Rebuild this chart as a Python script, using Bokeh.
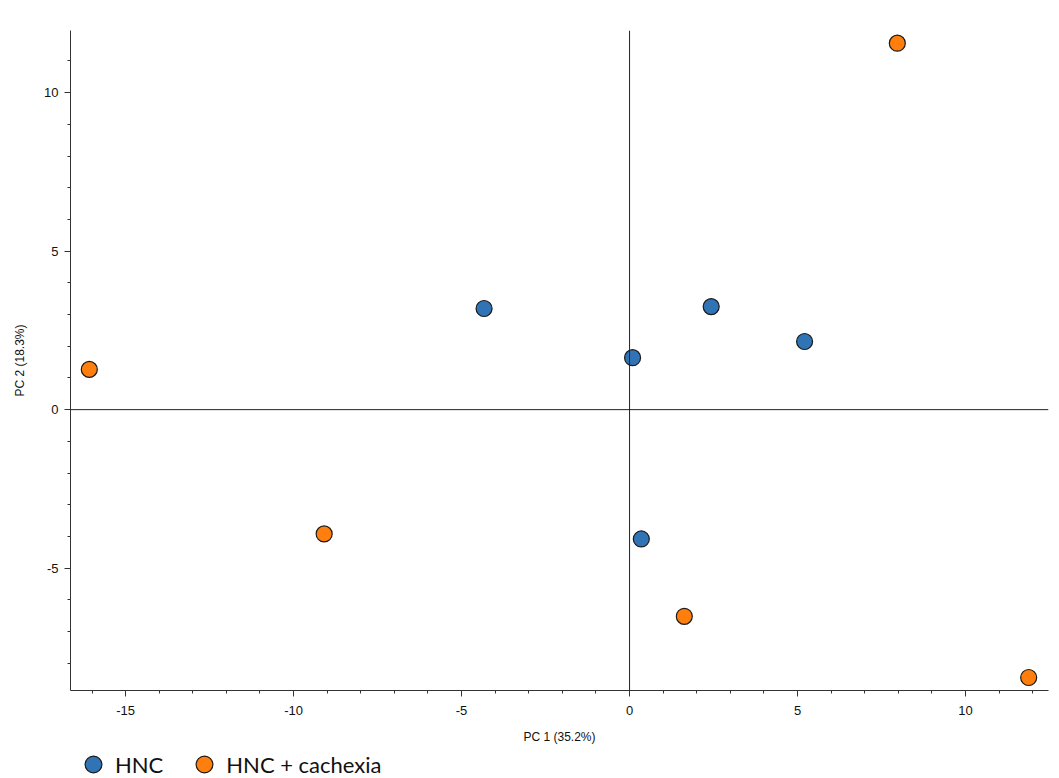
from bokeh.plotting import figure
from bokeh.layouts import column
from bokeh.models import (Range1d, SingleIntervalTicker, Span, Legend, LegendItem,
                          PrintfTickFormatter)
from bokeh.embed import file_html
from bokeh.resources import INLINE

# Data
hnc_pc1 = [-4.33, 0.09, 2.43, 5.21, 0.35]
hnc_pc2 = [3.19, 1.64, 3.25, 2.15, -4.08]
cach_pc1 = [-16.08, -9.09, 1.63, 7.97, 11.88]
cach_pc2 = [1.27, -3.92, -6.52, 11.56, -8.45]

x_label = "PC 1 (35.2%)"
y_label = "PC 2 (18.3%)"
series_names = ["HNC", "HNC + cachexia"]
colors = ["#3174B5", "#FF7F0E"]

p = figure(width=1053, height=746, output_backend="svg", toolbar_location=None,
           x_range=Range1d(-16.64, 12.47), y_range=Range1d(-8.86, 11.96),
           min_border_left=70, min_border_right=5, min_border_top=30,
           min_border_bottom=56)
p.outline_line_color = None
p.xgrid.visible = False
p.ygrid.visible = False
p.background_fill_color = "white"
p.border_fill_color = "white"

p.xaxis.ticker = SingleIntervalTicker(interval=5, num_minor_ticks=5)
p.yaxis.ticker = SingleIntervalTicker(interval=5, num_minor_ticks=5)
p.xaxis.formatter = PrintfTickFormatter(format="%d")
p.yaxis.formatter = PrintfTickFormatter(format="%d")
for ax in (p.xaxis, p.yaxis):
    ax.axis_line_color = "#333333"
    ax.major_tick_line_color = "#333333"
    ax.minor_tick_line_color = "#333333"
    ax.major_tick_out = 6
    ax.major_tick_in = 0
    ax.minor_tick_out = 3
    ax.minor_tick_in = 0
    ax.major_label_text_font = "Liberation Sans"
    ax.major_label_text_font_size = "13px"
    ax.major_label_text_color = "#111111"
    ax.axis_label_text_font = "Liberation Sans"
    ax.axis_label_text_font_size = "12px"
    ax.axis_label_text_font_style = "normal"
    ax.axis_label_text_color = "#111111"
p.xaxis.axis_label = x_label
p.yaxis.axis_label = y_label
p.xaxis.major_label_standoff = 9
p.xaxis.axis_label_standoff = 12
p.yaxis.major_label_standoff = 6
p.yaxis.axis_label_standoff = 14

p.add_layout(Span(location=0, dimension="height", line_color="#222222", line_width=1))
p.add_layout(Span(location=0, dimension="width", line_color="#222222", line_width=1))

p.scatter(hnc_pc1, hnc_pc2, size=16, fill_color=colors[0],
          line_color="#1a1a1a", line_width=1.2)
p.scatter(cach_pc1, cach_pc2, size=16, fill_color=colors[1],
          line_color="#1a1a1a", line_width=1.2)

# Legend strip below the chart (series drawn off-range; only the legend shows)
lg = figure(width=1053, height=32, output_backend="svg", toolbar_location=None,
            x_range=Range1d(1000, 1001), y_range=Range1d(1000, 1001),
            min_border=0)
lg.axis.visible = False
lg.grid.visible = False
lg.outline_line_color = None
lr1 = lg.scatter(hnc_pc1, hnc_pc2, size=17, fill_color=colors[0],
                 line_color="#1a1a1a", line_width=1.2)
lr2 = lg.scatter(cach_pc1, cach_pc2, size=17, fill_color=colors[1],
                 line_color="#1a1a1a", line_width=1.2)
legend = Legend(items=[LegendItem(label=series_names[0], renderers=[lr1]),
                       LegendItem(label=series_names[1], renderers=[lr2])],
                orientation="horizontal", location=(1, -7),
                label_text_font="Lato", label_text_font_size="22px",
                label_text_color="#111111", border_line_color=None,
                background_fill_alpha=0, spacing=19, glyph_width=44,
                glyph_height=42, label_standoff=0, padding=0,
                margin=0, label_height=26)
lg.add_layout(legend)

layout = column(p, lg, spacing=0)
open("out.html", "w").write(file_html(layout, INLINE))
